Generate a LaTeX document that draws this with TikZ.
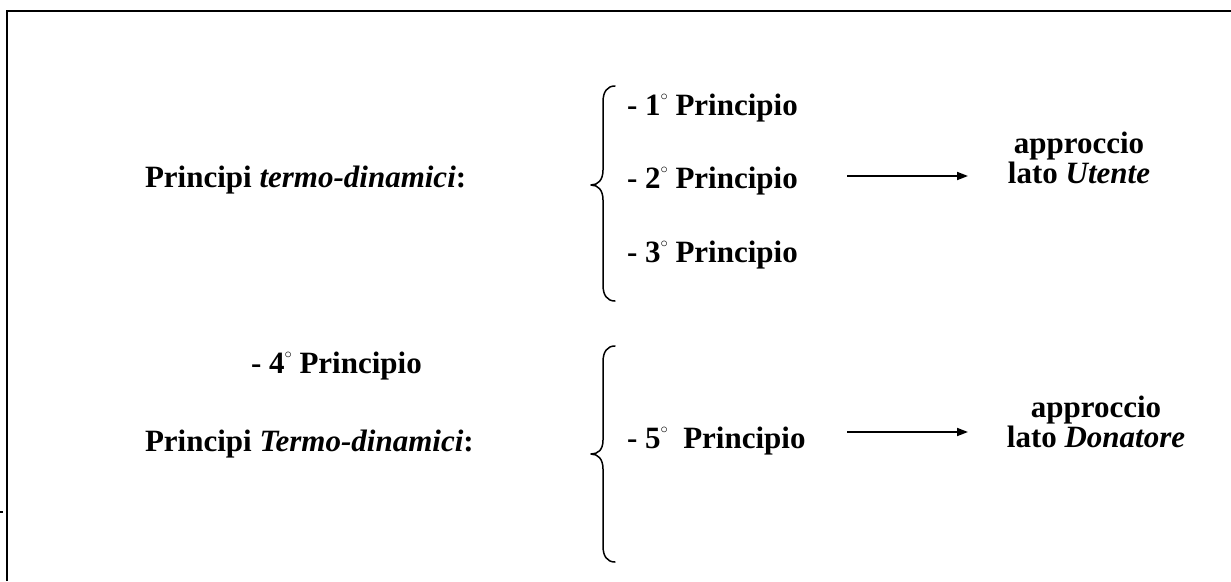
\documentclass[tikz,border=0pt]{standalone}
\usepackage{fontspec}
\setmainfont{Liberation Serif}
\usetikzlibrary{arrows.meta}
\newcommand{\grado}{\raisebox{15pt}{\fontsize{14}{14}\selectfont$\circ$}}
\begin{document}
\begin{tikzpicture}[x=1pt,y=-1pt,
  txt/.style={inner sep=0pt,outer sep=0pt,font=\fontsize{31}{31}\selectfont\bfseries},
  lft/.style={txt,anchor=base west},
  ctr/.style={txt,anchor=base},
  bracepath/.style={line width=1.5pt,line cap=round,line join=round},
  arrowline/.style={line width=1.8pt,-{Triangle[length=11pt,width=8pt]}},
  framepath/.style={line width=1.8pt}]
\useasboundingbox (0,0) rectangle (1231,581);
% frame
\draw[framepath] (7,581) -- (7,11) -- (1231,11);
\draw[line width=1.5pt] (0,512) -- (3,512);
% group 1
\node[lft] (t1) at (145,187) {Principi \textit{termo-dinamici}:};
\node[lft] (p1) at (627,115) {- 1\grado{} Principio};
\node[lft] (p2) at (627,188) {- 2\grado{} Principio};
\node[lft] (p3) at (627,262) {- 3\grado{} Principio};
\draw[bracepath] (615,86) .. controls (607,86) and (603,92) .. (603,102) -- (603,170)
  .. controls (603,180) and (598,185) .. (591,185)
  .. controls (598,185) and (603,190) .. (603,200) -- (603,285)
  .. controls (603,295) and (607,301) .. (615,301);
\coordinate (a1s) at (847,176);
\coordinate (a1e) at (968,176);
\draw[arrowline] (a1s) -- (a1e);
\node[ctr] (u1) at (1079,153) {approccio};
\node[ctr] (u2) at (1079,183) {lato \textit{Utente}};
% group 2
\node[lft] (p4) at (251,373) {- 4\grado{} Principio};
\node[lft] (t2) at (145,451) {Principi \textit{Termo-dinamici}:};
\node[lft] (p5) at (627,448) {- 5\grado{}\ \ Principio};
\draw[bracepath] (615,346) .. controls (607,346) and (603,352) .. (603,362) -- (603,440)
  .. controls (603,450) and (598,454) .. (591,454)
  .. controls (598,454) and (603,459) .. (603,469) -- (603,546)
  .. controls (603,556) and (607,562) .. (615,562);
\coordinate (a2s) at (847,432);
\coordinate (a2e) at (968,432);
\draw[arrowline] (a2s) -- (a2e);
\node[ctr] (d1) at (1096,417) {approccio};
\node[ctr] (d2) at (1096,447) {lato \textit{Donatore}};
\end{tikzpicture}
\end{document}
